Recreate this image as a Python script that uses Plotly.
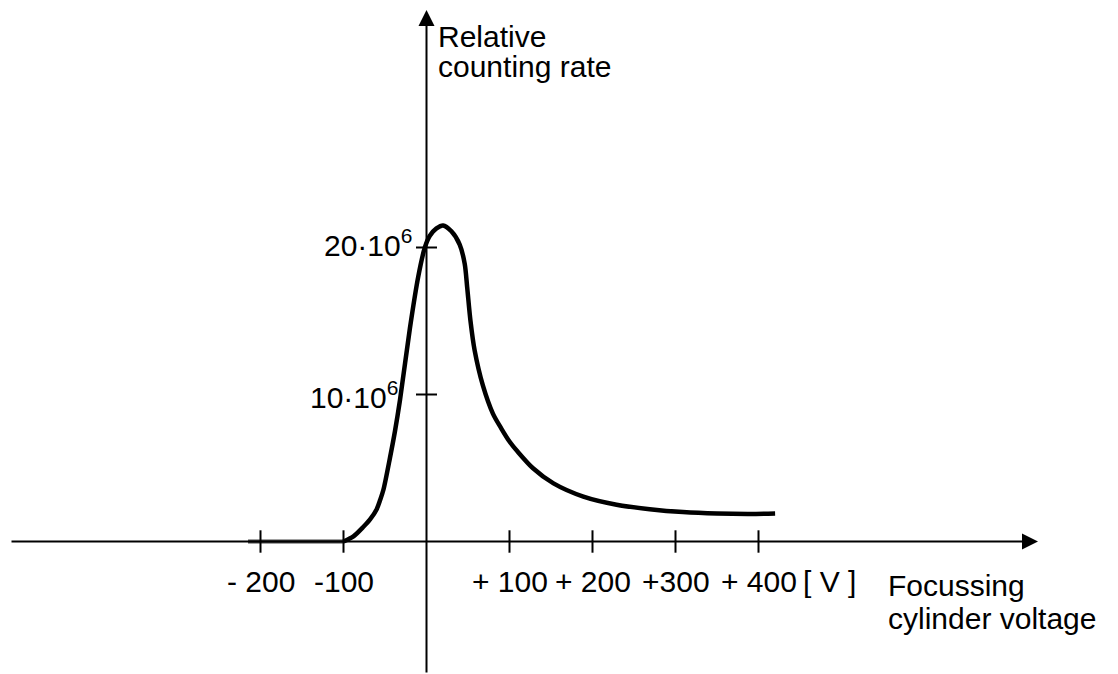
import plotly.graph_objects as go

# ---- data ----
# flat part of the curve lying on the axis
flat_voltage = [-215, -100]
flat_rate_m = [0.0, 0.0]
# rising / falling part
voltage = [-100, -88, -76, -68, -60, -56, -52, -44, -38, -32, -20, -10, -2, 4, 12, 20, 30, 40,
           46, 49, 53, 58, 68, 80, 90, 100, 110, 128, 153, 189, 229, 269, 309, 350, 390, 420]
rate_m = [0.0, 0.35, 1.0, 1.5, 2.2, 2.8, 3.5, 5.7, 7.5, 9.6, 14.5, 18.0, 20.0, 20.8, 21.3, 21.5, 21.1, 20.2,
          18.9, 17.3, 15.0, 13.0, 10.6, 8.7, 7.7, 6.8, 6.1, 5.0, 3.95, 3.05, 2.5, 2.2, 2.0, 1.9, 1.87, 1.9]

x_tick_vals = [-200, -100, 100, 200, 300, 400]
x_tick_text = ["- 200", "-100", "+ 100", "+ 200", "+300", "+ 400"]
y_tick_vals = [10, 20]
y_tick_text = ["10·10<sup>6</sup>", "20·10<sup>6</sup>"]
x_unit = "[ V ]"
x_title_lines = ["Focussing", "cylinder voltage"]
y_title_lines = ["Relative", "counting rate"]

# ---- layout constants ----
W, H = 1118, 674
X0_PX, PX_PER_V = 426.5, 0.83
Y0_PX, PX_PER_M = 541.5, 14.7
xr = [-X0_PX / PX_PER_V, (W - X0_PX) / PX_PER_V]
yr = [-(H - Y0_PX) / PX_PER_M, Y0_PX / PX_PER_M]

def vx(px):
    return (px - X0_PX) / PX_PER_V

def vy(py):
    return (Y0_PX - py) / PX_PER_M

FONT = "Liberation Sans, Arial, sans-serif"
TICK_FONT = dict(family=FONT, size=30, color="black")
TITLE_FONT = dict(family=FONT, size=30, color="black")

fig = go.Figure()

# flat part along the axis
fig.add_trace(go.Scatter(x=flat_voltage, y=flat_rate_m, mode="lines",
                         line=dict(color="#444444", width=4),
                         hoverinfo="skip", showlegend=False))
# curve
fig.add_trace(go.Scatter(x=voltage, y=rate_m, mode="lines",
                         line=dict(color="black", width=4.5, shape="spline", smoothing=0.8),
                         hoverinfo="skip", showlegend=False))
# x ticks
fig.add_trace(go.Scatter(x=x_tick_vals, y=[0] * len(x_tick_vals), mode="markers",
                         marker=dict(symbol="line-ns", size=16, line=dict(color="black", width=2)),
                         hoverinfo="skip", showlegend=False))
# y ticks
fig.add_trace(go.Scatter(x=[0] * len(y_tick_vals), y=y_tick_vals, mode="markers",
                         marker=dict(symbol="line-ew", size=15, line=dict(color="black", width=2)),
                         hoverinfo="skip", showlegend=False))

annotations = []
# axis arrows
annotations.append(dict(x=vx(1038), y=0, ax=vx(10), ay=0, xref="x", yref="y", axref="x", ayref="y",
                        showarrow=True, arrowhead=2, arrowsize=1.6, arrowwidth=2, arrowcolor="black", text=""))
annotations.append(dict(x=0, y=vy(10), ax=0, ay=yr[0], xref="x", yref="y", axref="x", ayref="y",
                        showarrow=True, arrowhead=2, arrowsize=1.6, arrowwidth=2, arrowcolor="black", text=""))
# x tick labels
lab_y = vy(581)
for v, t in zip(x_tick_vals, x_tick_text):
    annotations.append(dict(x=v, y=lab_y, text=t, showarrow=False, xref="x", yref="y",
                            xanchor="center", yanchor="middle", font=TICK_FONT))
annotations.append(dict(x=vx(829), y=lab_y, text=x_unit, showarrow=False, xref="x", yref="y",
                        xanchor="center", yanchor="middle", font=TICK_FONT))
# y tick labels
annotations.append(dict(x=vx(400), y=vy(395), text=y_tick_text[0], showarrow=False, xref="x", yref="y",
                        xanchor="right", yanchor="middle", font=TICK_FONT))
annotations.append(dict(x=vx(414), y=vy(243), text=y_tick_text[1], showarrow=False, xref="x", yref="y",
                        xanchor="right", yanchor="middle", font=TICK_FONT))
# axis titles (one annotation per line for tight line spacing)
for t, py in zip(x_title_lines, [585, 618]):
    annotations.append(dict(x=vx(886), y=vy(py), text=t, showarrow=False, xref="x", yref="y",
                            xanchor="left", yanchor="middle", font=TITLE_FONT))
for t, py in zip(y_title_lines, [36, 66]):
    annotations.append(dict(x=vx(436), y=vy(py), text=t, showarrow=False, xref="x", yref="y",
                            xanchor="left", yanchor="middle", font=TITLE_FONT))

ax_common = dict(showgrid=False, zeroline=False, showticklabels=False, showline=False, ticks="", fixedrange=True)
fig.update_layout(
    width=W, height=H, margin=dict(l=0, r=0, t=0, b=0),
    paper_bgcolor="white", plot_bgcolor="white",
    xaxis=dict(range=xr, **ax_common),
    yaxis=dict(range=yr, **ax_common),
    annotations=annotations, showlegend=False,
)

fig.write_html("out.html", config={"displayModeBar": False},
               post_script="document.body.style.margin='0';document.body.style.overflow='hidden';")
